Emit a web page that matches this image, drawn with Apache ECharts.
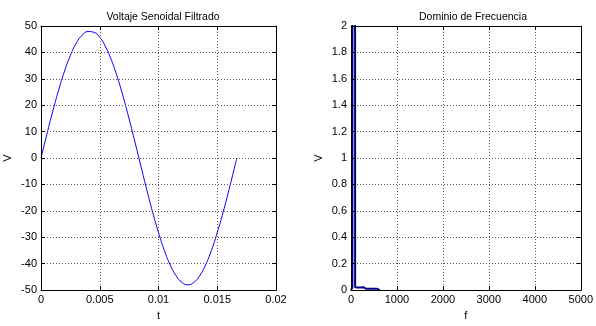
<!DOCTYPE html>
<html><head><meta charset="utf-8">
<script src="https://cdn.jsdelivr.net/npm/echarts@6/dist/echarts.min.js"></script>
<style>html,body{margin:0;padding:0;background:#fff}#c{width:596px;height:326px}</style>
</head><body><div id="c"></div>
<script>
// Left plot: filtered sinusoidal voltage
const timeValues = [0,0.0005,0.001,0.0015,0.002,0.0025,0.003,0.0035,0.004,0.0045,0.005,0.0055,0.006,0.0065,0.007,0.0075,0.008,0.0085,0.009,0.0095,0.01,0.0105,0.011,0.0115,0.012,0.0125,0.013,0.0135,0.014,0.0145,0.015,0.0155,0.016,0.0165,0.01667];
const voltValues = [0,9.0,17.7,25.7,32.9,38.8,43.5,46.5,47.9,47.6,45.7,42.1,37.0,30.6,23.1,14.8,6.0,-3.0,-12.0,-20.5,-28.2,-35.0,-40.5,-44.6,-47.1,-48.0,-47.1,-44.6,-40.5,-35.0,-28.2,-20.5,-12.0,-3.0,0];
// Right plot: frequency domain magnitude
const freqValues = [0,30,60,90,120,150,180,210,240,270,300,330,360,390,420,450,480,510,540,570,600,630];
const magValues  = [0,0.02,48,0.022,0.02,0.02,0.022,0.02,0.02,0.022,0.02,0.01,0.0,0.01,0.0,0.01,0.0,0.01,0.0,0.01,0.0,0];
const leftXTicks = {min:0,max:0.02,interval:0.005};
const leftYTicks = {min:-50,max:50,interval:10};
const rightXTicks = {min:0,max:5000,interval:1000};
const rightYTicks = {min:0,max:2,interval:0.2};
const titles = ['Voltaje Senoidal Filtrado','Dominio de Frecuencia'];

const font = 'Liberation Sans, Arial, sans-serif';
const lbl = {color:'#000',fontSize:11,fontFamily:font};
const split = {show:true,lineStyle:{color:'#555',type:[1,2],width:1}};
const line = {show:true,onZero:false,lineStyle:{color:'#000',width:1}};
const tick = {show:true,inside:true,length:4,lineStyle:{color:'#000'}};
function fmt(v){return String(Math.round(v*100000)/100000);}

function mainX(gi,t,name){return {type:'value',gridIndex:gi,min:t.min,max:t.max,interval:t.interval,position:'bottom',z:5,
  axisLine:line,axisTick:tick,splitLine:split,axisLabel:Object.assign({margin:4,formatter:fmt},lbl),
  name:name,nameLocation:'middle',nameGap:19,nameTextStyle:lbl};}
function topX(gi,t){return {type:'value',gridIndex:gi,min:t.min,max:t.max,interval:t.interval,position:'top',z:5,
  axisLine:line,axisTick:tick,splitLine:{show:false},axisLabel:{show:false}};}
function mainY(gi,t,gap){return {type:'value',gridIndex:gi,min:t.min,max:t.max,interval:t.interval,position:'left',z:5,
  axisLine:line,axisTick:tick,splitLine:split,axisLabel:Object.assign({margin:4,formatter:fmt},lbl),
  name:'V',nameLocation:'middle',nameGap:gap,nameTextStyle:lbl};}
function rightY(gi,t){return {type:'value',gridIndex:gi,min:t.min,max:t.max,interval:t.interval,position:'right',z:5,
  axisLine:line,axisTick:tick,splitLine:{show:false},axisLabel:{show:false}};}

const chart = echarts.init(document.getElementById('c'),null,{renderer:'canvas'});
chart.setOption({
  animation:false,
  backgroundColor:'#fff',
  title:[
    {text:titles[0],left:158,top:7,textAlign:'center',textStyle:{fontSize:10.5,fontWeight:'normal',color:'#000',fontFamily:font}},
    {text:titles[1],left:468,top:7,textAlign:'center',textStyle:{fontSize:10.5,fontWeight:'normal',color:'#000',fontFamily:font}}
  ],
  grid:[
    {left:41,top:26,width:235,height:272},
    {left:351,top:26,width:234,height:272}
  ],
  xAxis:[mainX(0,leftXTicks,'t'),topX(0,leftXTicks),mainX(1,rightXTicks,'f'),topX(1,rightXTicks)],
  yAxis:[mainY(0,leftYTicks,28),rightY(0,leftYTicks),mainY(1,rightYTicks,27),rightY(1,rightYTicks)],
  series:[
    {type:'line',xAxisIndex:0,yAxisIndex:0,data:timeValues.map((t,i)=>[t,voltValues[i]]),
     smooth:true,showSymbol:false,lineStyle:{color:'#0000ff',width:1},clip:true},
    {type:'line',xAxisIndex:2,yAxisIndex:2,data:freqValues.map((f,i)=>[f,magValues[i]]),
     showSymbol:false,lineStyle:{color:'#000080',width:2},clip:true}
  ]
});
</script></body></html>
